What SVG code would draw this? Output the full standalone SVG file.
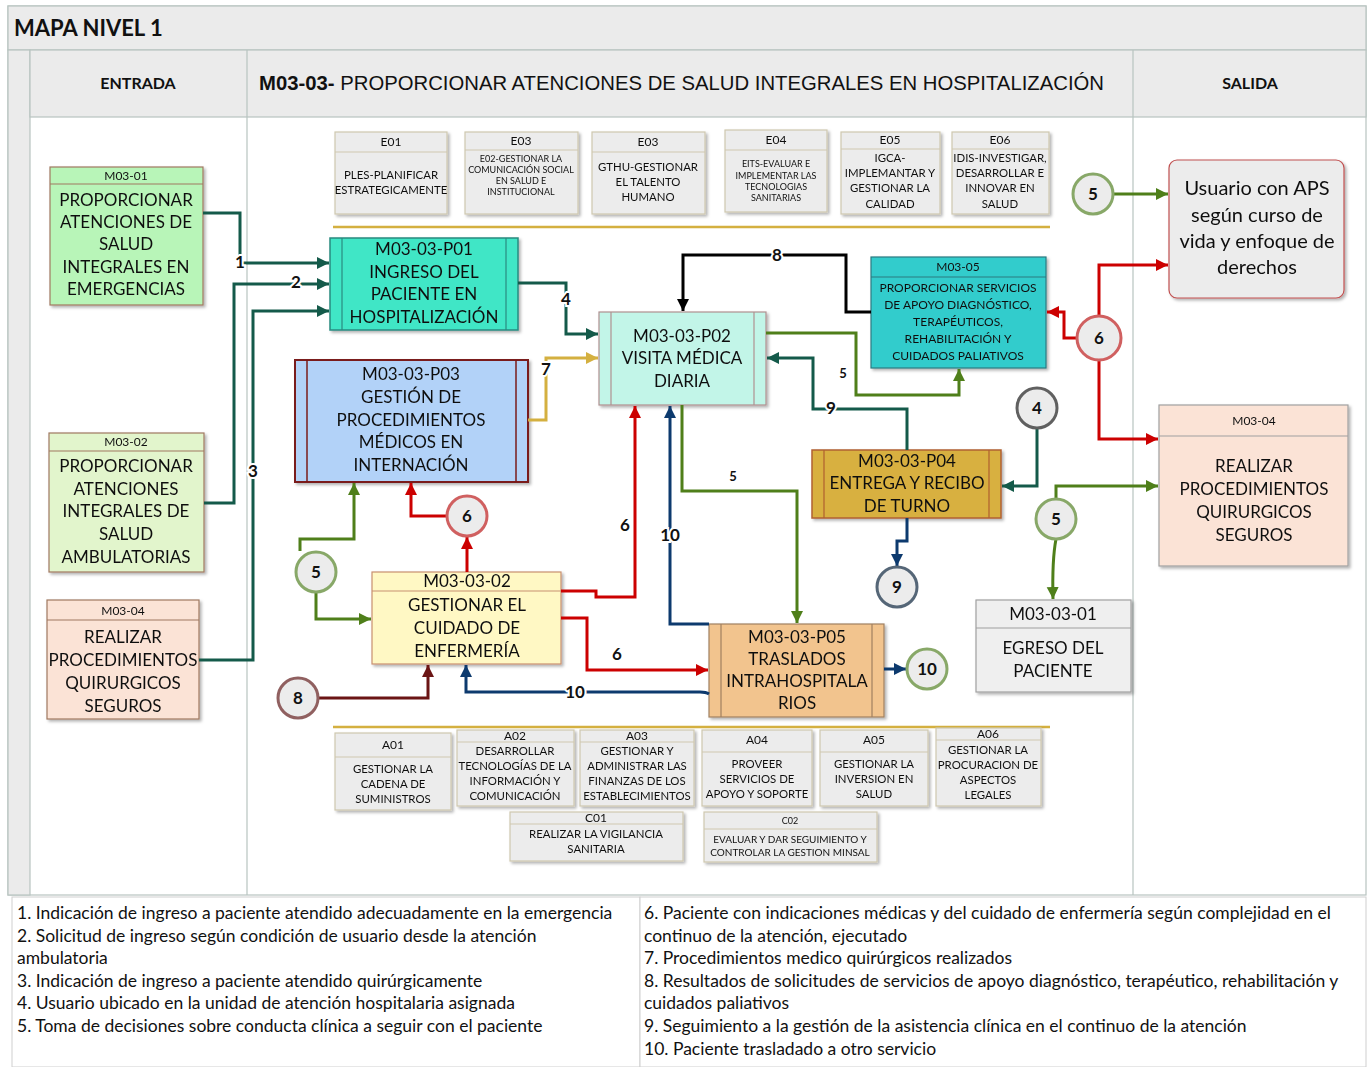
<svg xmlns="http://www.w3.org/2000/svg" width="1372" height="1067" viewBox="0 0 1372 1067">
<defs>
<style>
text{font-family:Lato,"Open Sans","Liberation Sans",sans-serif;fill:#111;text-anchor:middle}
.h{font-size:12px}
.b12{font-size:11.4px}
.b9{font-size:9px}
.n{font-size:17px}
.lab{font-size:17px;font-weight:bold;paint-order:stroke;stroke:#fff;stroke-width:4px}
.lg{font-size:17.5px;text-anchor:start}
.box{fill:#ececec;stroke:#cfc8b0;stroke-width:1.2}
.sep{stroke:#cfc8b0;stroke-width:1.2}
.c{fill:none;stroke-width:3;stroke-linejoin:miter}
.circ{fill:#ececec;stroke-width:3}
.cn{font-size:17px;font-weight:bold}
</style>
<filter id="sh" x="-10%" y="-10%" width="130%" height="130%"><feDropShadow dx="2" dy="2" stdDeviation="1.5" flood-color="#000" flood-opacity="0.3"/></filter>
<marker id="aDG" markerUnits="userSpaceOnUse" markerWidth="14" markerHeight="14" refX="12" refY="6" orient="auto"><path d="M0,0 L12,6 L0,12 z" fill="#145a4a"/></marker>
<marker id="aG" markerUnits="userSpaceOnUse" markerWidth="14" markerHeight="14" refX="12" refY="6" orient="auto"><path d="M0,0 L12,6 L0,12 z" fill="#4f7f1a"/></marker>
<marker id="aR" markerUnits="userSpaceOnUse" markerWidth="14" markerHeight="14" refX="12" refY="6" orient="auto"><path d="M0,0 L12,6 L0,12 z" fill="#cc0000"/></marker>
<marker id="aN" markerUnits="userSpaceOnUse" markerWidth="14" markerHeight="14" refX="12" refY="6" orient="auto"><path d="M0,0 L12,6 L0,12 z" fill="#0d3a6e"/></marker>
<marker id="aY" markerUnits="userSpaceOnUse" markerWidth="14" markerHeight="14" refX="12" refY="6" orient="auto"><path d="M0,0 L12,6 L0,12 z" fill="#d4b040"/></marker>
<marker id="aK" markerUnits="userSpaceOnUse" markerWidth="14" markerHeight="14" refX="12" refY="6" orient="auto"><path d="M0,0 L12,6 L0,12 z" fill="#000"/></marker>
<marker id="aDR" markerUnits="userSpaceOnUse" markerWidth="14" markerHeight="14" refX="12" refY="6" orient="auto"><path d="M0,0 L12,6 L0,12 z" fill="#6b1515"/></marker>
</defs>

<!-- frame -->
<g id="frame">
<rect x="0" y="0" width="1372" height="1067" fill="#fff"/>
<rect x="8" y="6" width="1358" height="889" fill="#fff" stroke="#b8c4c0" stroke-width="1.2"/>
<rect x="8" y="6" width="1358" height="44" fill="#ebebeb" stroke="#b8c4c0" stroke-width="1.2"/>
<rect x="8" y="50" width="22" height="845" fill="#ebebeb" stroke="#b8c4c0" stroke-width="1.2"/>
<rect x="30" y="50" width="1336" height="67" fill="#ebebeb" stroke="#b8c4c0" stroke-width="1.2"/>
<line x1="247" y1="50" x2="247" y2="895" stroke="#b8c4c0" stroke-width="1.2"/>
<line x1="1133" y1="50" x2="1133" y2="895" stroke="#b8c4c0" stroke-width="1.2"/>
<text x="14" y="36" style="font-size:22px;font-weight:bold;text-anchor:start">MAPA NIVEL 1</text>
<text x="138" y="89" style="font-size:16px;font-weight:bold">ENTRADA</text>
<text x="1250" y="89" style="font-size:16px;font-weight:bold">SALIDA</text>
<text x="259" y="90" textLength="845" lengthAdjust="spacingAndGlyphs" style="font-family:'Liberation Sans',sans-serif;font-size:20px;text-anchor:start"><tspan font-weight="bold">M03-03-</tspan> PROPORCIONAR ATENCIONES DE SALUD INTEGRALES EN HOSPITALIZACIÓN</text>
<line x1="333" y1="227" x2="1050" y2="227" stroke="#d4b040" stroke-width="2.5"/>
<line x1="333" y1="727" x2="1050" y2="727" stroke="#d4b040" stroke-width="2.5"/>
</g>

<!-- strategic -->
<g id="E01" filter="url(#sh)"><rect class="box" x="335" y="132" width="112" height="82"/><line class="sep" x1="335" y1="152" x2="447" y2="152"/><text class="h" x="391" y="146">E01</text><text class="b12" x="391" y="179">PLES-PLANIFICAR</text><text class="b12" x="391" y="194">ESTRATEGICAMENTE</text></g>
<g id="E02" filter="url(#sh)"><rect class="box" x="465" y="132" width="113" height="82"/><line class="sep" x1="465" y1="150" x2="578" y2="150"/><text class="h" x="521" y="145">E03</text><text class="b9" x="521" y="162">E02-GESTIONAR LA</text><text class="b9" x="521" y="173">COMUNICACIÓN SOCIAL</text><text class="b9" x="521" y="184">EN SALUD E</text><text class="b9" x="521" y="195">INSTITUCIONAL</text></g>
<g id="E03" filter="url(#sh)"><rect class="box" x="592" y="132" width="113" height="82"/><line class="sep" x1="592" y1="152" x2="705" y2="152"/><text class="h" x="648" y="146">E03</text><text class="b12" x="648" y="171">GTHU-GESTIONAR</text><text class="b12" x="648" y="186">EL TALENTO</text><text class="b12" x="648" y="201">HUMANO</text></g>
<g id="E04" filter="url(#sh)"><rect class="box" x="725" y="130" width="102" height="82"/><line class="sep" x1="725" y1="150" x2="827" y2="150"/><text class="h" x="776" y="144">E04</text><text class="b9" x="776" y="167">EITS-EVALUAR E</text><text class="b9" x="776" y="179">IMPLEMENTAR LAS</text><text class="b9" x="776" y="190">TECNOLOGIAS</text><text class="b9" x="776" y="201">SANITARIAS</text></g>
<g id="E05" filter="url(#sh)"><rect class="box" x="841" y="132" width="99" height="82"/><line class="sep" x1="841" y1="149" x2="940" y2="149"/><text class="h" x="890" y="144">E05</text><text class="b12" x="890" y="162">IGCA-</text><text class="b12" x="890" y="177">IMPLEMANTAR Y</text><text class="b12" x="890" y="192">GESTIONAR LA</text><text class="b12" x="890" y="208">CALIDAD</text></g>
<g id="E06" filter="url(#sh)"><rect class="box" x="952" y="132" width="97" height="82"/><line class="sep" x1="952" y1="149" x2="1049" y2="149"/><text class="h" x="1000" y="144">E06</text><text class="b12" x="1000" y="162">IDIS-INVESTIGAR,</text><text class="b12" x="1000" y="177">DESARROLLAR E</text><text class="b12" x="1000" y="192">INNOVAR EN</text><text class="b12" x="1000" y="208">SALUD</text></g>

<!-- support -->
<g id="A01" filter="url(#sh)"><rect class="box" x="335" y="733" width="116" height="77"/><line class="sep" x1="335" y1="757" x2="451" y2="757"/><text class="h" x="393" y="749">A01</text><text class="b12" x="393" y="773">GESTIONAR LA</text><text class="b12" x="393" y="788">CADENA DE</text><text class="b12" x="393" y="803">SUMINISTROS</text></g>
<g id="A02" filter="url(#sh)"><rect class="box" x="457" y="730" width="117" height="76"/><line class="sep" x1="457" y1="742" x2="574" y2="742"/><text class="h" x="515" y="740">A02</text><text class="b12" x="515" y="755">DESARROLLAR</text><text class="b12" x="515" y="770">TECNOLOGÍAS DE LA</text><text class="b12" x="515" y="785">INFORMACIÓN Y</text><text class="b12" x="515" y="800">COMUNICACIÓN</text></g>
<g id="A03" filter="url(#sh)"><rect class="box" x="580" y="730" width="114" height="76"/><line class="sep" x1="580" y1="742" x2="694" y2="742"/><text class="h" x="637" y="740">A03</text><text class="b12" x="637" y="755">GESTIONAR Y</text><text class="b12" x="637" y="770">ADMINISTRAR LAS</text><text class="b12" x="637" y="785">FINANZAS DE LOS</text><text class="b12" x="637" y="800">ESTABLECIMIENTOS</text></g>
<g id="A04" filter="url(#sh)"><rect class="box" x="702" y="730" width="110" height="76"/><line class="sep" x1="702" y1="752" x2="812" y2="752"/><text class="h" x="757" y="744">A04</text><text class="b12" x="757" y="768">PROVEER</text><text class="b12" x="757" y="783">SERVICIOS DE</text><text class="b12" x="757" y="798">APOYO Y SOPORTE</text></g>
<g id="A05" filter="url(#sh)"><rect class="box" x="820" y="730" width="108" height="76"/><line class="sep" x1="820" y1="752" x2="928" y2="752"/><text class="h" x="874" y="744">A05</text><text class="b12" x="874" y="768">GESTIONAR LA</text><text class="b12" x="874" y="783">INVERSION EN</text><text class="b12" x="874" y="798">SALUD</text></g>
<g id="A06" filter="url(#sh)"><rect class="box" x="936" y="728" width="105" height="78"/><line class="sep" x1="936" y1="740" x2="1041" y2="740"/><text class="h" x="988" y="738">A06</text><text class="b12" x="988" y="754">GESTIONAR LA</text><text class="b12" x="988" y="769">PROCURACION DE</text><text class="b12" x="988" y="784">ASPECTOS</text><text class="b12" x="988" y="799">LEGALES</text></g>
<g id="C01" filter="url(#sh)"><rect class="box" x="510" y="812" width="173" height="49"/><line class="sep" x1="510" y1="824" x2="683" y2="824"/><text class="h" x="596" y="822">C01</text><text class="b12" x="596" y="838">REALIZAR LA VIGILANCIA</text><text class="b12" x="596" y="853">SANITARIA</text></g>
<g id="C02" filter="url(#sh)"><rect class="box" x="704" y="812" width="173" height="50"/><line class="sep" x1="704" y1="829" x2="877" y2="829"/><text class="b9" x="790" y="824">C02</text><text style="font-size:10px" x="790" y="843">EVALUAR Y DAR SEGUIMIENTO Y</text><text style="font-size:10px" x="790" y="856">CONTROLAR LA GESTION MINSAL</text></g>

<!-- input nodes -->
<g id="M03-01" filter="url(#sh)"><rect x="50" y="167" width="153" height="138" fill="#b8f5b8" stroke="#a07860" stroke-width="1.2"/><line x1="50" y1="184" x2="203" y2="184" stroke="#a07860" stroke-width="1.2"/><text class="h" x="126" y="180">M03-01</text><text class="n" x="126" y="206">PROPORCIONAR</text><text class="n" x="126" y="228">ATENCIONES DE</text><text class="n" x="126" y="250">SALUD</text><text class="n" x="126" y="273">INTEGRALES EN</text><text class="n" x="126" y="295">EMERGENCIAS</text></g>
<g id="M03-02" filter="url(#sh)"><rect x="49" y="433" width="155" height="139" fill="#e2f5cc" stroke="#a07860" stroke-width="1.2"/><line x1="49" y1="451" x2="204" y2="451" stroke="#a07860" stroke-width="1.2"/><text class="h" x="126" y="446">M03-02</text><text class="n" x="126" y="472">PROPORCIONAR</text><text class="n" x="126" y="495">ATENCIONES</text><text class="n" x="126" y="517">INTEGRALES DE</text><text class="n" x="126" y="540">SALUD</text><text class="n" x="126" y="563">AMBULATORIAS</text></g>
<g id="M03-04-in" filter="url(#sh)"><rect x="47" y="600" width="152" height="119" fill="#fbe3d6" stroke="#a07860" stroke-width="1.2"/><line x1="47" y1="620" x2="199" y2="620" stroke="#a07860" stroke-width="1.2"/><text class="h" x="123" y="615">M03-04</text><text class="n" x="123" y="643">REALIZAR</text><text class="n" x="123" y="666">PROCEDIMIENTOS</text><text class="n" x="123" y="689">QUIRURGICOS</text><text class="n" x="123" y="712">SEGUROS</text></g>

<!-- process nodes -->
<g id="P01" filter="url(#sh)"><rect x="330" y="238" width="188" height="92" fill="#40e6c6" stroke="#2a8a80" stroke-width="1.5"/><line x1="342" y1="238" x2="342" y2="330" stroke="#2a8a80" stroke-width="1.2"/><line x1="506" y1="238" x2="506" y2="330" stroke="#2a8a80" stroke-width="1.2"/><text class="n" x="424" y="255">M03-03-P01</text><text class="n" x="424" y="278">INGRESO DEL</text><text class="n" x="424" y="300">PACIENTE EN</text><text class="n" x="424" y="323">HOSPITALIZACIÓN</text></g>
<g id="P02" filter="url(#sh)"><rect x="599" y="312" width="167" height="93" fill="#c2f5e8" stroke="#b09090" stroke-width="1.2"/><line x1="611" y1="312" x2="611" y2="405" stroke="#b09090" stroke-width="1.2"/><line x1="754" y1="312" x2="754" y2="405" stroke="#b09090" stroke-width="1.2"/><text class="n" x="682" y="342">M03-03-P02</text><text class="n" x="682" y="364">VISITA MÉDICA</text><text class="n" x="682" y="387">DIARIA</text></g>
<g id="P03" filter="url(#sh)"><rect x="295" y="360" width="233" height="122" fill="#b2d2f8" stroke="#7a1a1a" stroke-width="2"/><line x1="307" y1="360" x2="307" y2="482" stroke="#7a1a1a" stroke-width="1.5"/><line x1="516" y1="360" x2="516" y2="482" stroke="#7a1a1a" stroke-width="1.5"/><text class="n" x="411" y="380">M03-03-P03</text><text class="n" x="411" y="403">GESTIÓN DE</text><text class="n" x="411" y="426">PROCEDIMIENTOS</text><text class="n" x="411" y="448">MÉDICOS EN</text><text class="n" x="411" y="471">INTERNACIÓN</text></g>
<g id="M03-05" filter="url(#sh)"><rect x="871" y="257" width="175" height="111" fill="#33cccc" stroke="#2a7a80" stroke-width="1.2"/><line x1="871" y1="277" x2="1046" y2="277" stroke="#2a7a80" stroke-width="1.2"/><text class="h" x="958" y="271">M03-05</text><text style="font-size:12px" x="958" y="292">PROPORCIONAR  SERVICIOS</text><text style="font-size:12px" x="958" y="309">DE APOYO DIAGNÓSTICO,</text><text style="font-size:12px" x="958" y="326">TERAPÉUTICOS,</text><text style="font-size:12px" x="958" y="343">REHABILITACIÓN Y</text><text style="font-size:12px" x="958" y="360">CUIDADOS PALIATIVOS</text></g>
<g id="P04" filter="url(#sh)"><rect x="812" y="450" width="189" height="68" fill="#d8b040" stroke="#b06030" stroke-width="1.5"/><line x1="824" y1="450" x2="824" y2="518" stroke="#b06030" stroke-width="1.2"/><line x1="989" y1="450" x2="989" y2="518" stroke="#b06030" stroke-width="1.2"/><text class="n" x="907" y="467">M03-03-P04</text><text class="n" x="907" y="489">ENTREGA Y RECIBO</text><text class="n" x="907" y="512">DE TURNO</text></g>
<g id="M03-03-02" filter="url(#sh)"><rect x="372" y="572" width="189" height="92" fill="#fff8c4" stroke="#c89070" stroke-width="1.2"/><line x1="372" y1="591" x2="561" y2="591" stroke="#c89070" stroke-width="1.2"/><text class="n" x="467" y="587">M03-03-02</text><text class="n" x="467" y="611">GESTIONAR EL</text><text class="n" x="467" y="634">CUIDADO DE</text><text class="n" x="467" y="657">ENFERMERÍA</text></g>
<g id="P05" filter="url(#sh)"><rect x="709" y="624" width="175" height="93" fill="#f2c48e" stroke="#a08060" stroke-width="1.2"/><line x1="721" y1="624" x2="721" y2="717" stroke="#a08060" stroke-width="1.2"/><line x1="872" y1="624" x2="872" y2="717" stroke="#a08060" stroke-width="1.2"/><text class="n" x="797" y="643">M03-03-P05</text><text class="n" x="797" y="665">TRASLADOS</text><text class="n" x="797" y="687">INTRAHOSPITALA</text><text class="n" x="797" y="709">RIOS</text></g>

<!-- output nodes -->
<g id="M03-03-01" filter="url(#sh)"><rect x="976" y="600" width="155" height="92" fill="#efefef" stroke="#a0a0a0" stroke-width="1.2"/><line x1="976" y1="628" x2="1131" y2="628" stroke="#a0a0a0" stroke-width="1.2"/><text class="n" x="1053" y="620">M03-03-01</text><text class="n" x="1053" y="654">EGRESO DEL</text><text class="n" x="1053" y="677">PACIENTE</text></g>
<g id="usuario" filter="url(#sh)"><rect x="1169" y="160" width="175" height="138" rx="8" fill="#ececec" stroke="#c05050" stroke-width="1.2"/><text style="font-size:20px" x="1257" y="195">Usuario con APS</text><text style="font-size:20px" x="1257" y="222">según curso de</text><text style="font-size:20px" x="1257" y="248">vida y enfoque de</text><text style="font-size:20px" x="1257" y="274">derechos</text></g>
<g id="M03-04-out" filter="url(#sh)"><rect x="1159" y="405" width="189" height="161" fill="#fbe3d6" stroke="#a0a0a0" stroke-width="1.2"/><line x1="1159" y1="436" x2="1348" y2="436" stroke="#a0a0a0" stroke-width="1.2"/><text class="h" x="1254" y="425">M03-04</text><text class="n" x="1254" y="472">REALIZAR</text><text class="n" x="1254" y="495">PROCEDIMIENTOS</text><text class="n" x="1254" y="518">QUIRURGICOS</text><text class="n" x="1254" y="541">SEGUROS</text></g>

<!-- connectors -->
<g id="connectors">
<path class="c" stroke="#145a4a" marker-end="url(#aDG)" d="M203,213 H240 V263 H329"/>
<path class="c" stroke="#145a4a" marker-end="url(#aDG)" d="M204,503 H234 V284 H329"/>
<path class="c" stroke="#145a4a" marker-end="url(#aDG)" d="M199,660 H253 V311 H329"/>
<path class="c" stroke="#145a4a" marker-end="url(#aDG)" d="M518,283 H566 V334 H598"/>
<path class="c" stroke="#d4b040" marker-end="url(#aY)" d="M528,420 H546 V358 H598"/>
<path class="c" stroke="#000" marker-end="url(#aK)" d="M871,312 H846 V255 H683 V311"/>
<path class="c" stroke="#4f7f1a" marker-end="url(#aG)" d="M766,333 H856 V395 H959 V369"/>
<path class="c" stroke="#145a4a" marker-end="url(#aDG)" d="M907,450 V409 H813 V358 H767"/>
<path class="c" stroke="#4f7f1a" marker-end="url(#aG)" d="M682,405 V491 H797 V623"/>
<path class="c" stroke="#cc0000" marker-end="url(#aR)" d="M561,591 H596 V597 H635 V406"/>
<path class="c" stroke="#0d3a6e" marker-end="url(#aN)" d="M709,624 H670 V406"/>
<path class="c" stroke="#cc0000" marker-end="url(#aR)" d="M561,618 H587 V670 H708"/>
<path class="c" stroke="#0d3a6e" marker-end="url(#aN)" d="M709,694 Q706,692 700,692 H466 V665"/>
<path class="c" stroke="#6b1515" marker-end="url(#aDR)" d="M318,698 H428 V665"/>
<path class="c" stroke="#4f7f1a" marker-end="url(#aG)" d="M300,551 V539 H354 V483"/>
<path class="c" stroke="#4f7f1a" marker-end="url(#aG)" d="M316,592 V619 H371"/>
<path class="c" stroke="#cc0000" marker-end="url(#aR)" d="M467,572 V537"/>
<path class="c" stroke="#cc0000" marker-end="url(#aR)" d="M447,516 H411 V483"/>
<path class="c" stroke="#0d3a6e" stroke-width="2.5" marker-end="url(#aN)" d="M907,518 V541 H897 V566"/>
<path class="c" stroke="#0d3a6e" marker-end="url(#aN)" d="M884,669 H906"/>
<path class="c" stroke="#145a4a" marker-end="url(#aDG)" d="M1037,428 V486 H1002"/>
<path class="c" stroke="#4f7f1a" marker-end="url(#aG)" d="M1113,194 H1168"/>
<path class="c" stroke="#cc0000" marker-end="url(#aR)" d="M1099,316 V265 H1168"/>
<path class="c" stroke="#cc0000" marker-end="url(#aR)" d="M1077,338 H1064 V312 H1047"/>
<path class="c" stroke="#cc0000" marker-end="url(#aR)" d="M1099,360 V439 H1158"/>
<path class="c" stroke="#4f7f1a" marker-end="url(#aG)" d="M1056,499 V486 H1158"/>
<path class="c" stroke="#4f7f1a" marker-end="url(#aG)" d="M1056,539 Q1052,560 1053,599"/>
<text class="lab" x="240" y="268">1</text>
<text class="lab" x="296" y="288">2</text>
<text class="lab" x="253" y="477">3</text>
<text class="lab" x="566" y="305">4</text>
<text class="lab" x="546" y="375">7</text>
<text class="lab" x="777" y="261">8</text>
<text class="lab" x="843" y="378" style="font-size:13px">5</text>
<text class="lab" x="831" y="414">9</text>
<text class="lab" x="733" y="481" style="font-size:13px">5</text>
<text class="lab" x="625" y="531">6</text>
<text class="lab" x="670" y="541">10</text>
<text class="lab" x="617" y="660">6</text>
<text class="lab" x="575" y="698">10</text>
</g>

<!-- circles -->
<g id="c5a"><circle class="circ" cx="1093" cy="194" r="20" stroke="#88a868"/><text class="cn" x="1093" y="200">5</text></g>
<g id="c6a"><circle class="circ" cx="1099" cy="338" r="22" stroke="#d06060"/><text class="cn" x="1099" y="344">6</text></g>
<g id="c4"><circle class="circ" cx="1037" cy="408" r="20" stroke="#606060"/><text class="cn" x="1037" y="414">4</text></g>
<g id="c5b"><circle class="circ" cx="1056" cy="519" r="20" stroke="#88a868"/><text class="cn" x="1056" y="525">5</text></g>
<g id="c9"><circle class="circ" cx="897" cy="587" r="20" stroke="#556677"/><text class="cn" x="897" y="593">9</text></g>
<g id="c10"><circle class="circ" cx="927" cy="669" r="20" stroke="#88a868"/><text class="cn" x="927" y="675">10</text></g>
<g id="c6b"><circle class="circ" cx="467" cy="516" r="20" stroke="#d06060"/><text class="cn" x="467" y="522">6</text></g>
<g id="c5c"><circle class="circ" cx="316" cy="572" r="20" stroke="#88a868"/><text class="cn" x="316" y="578">5</text></g>
<g id="c8"><circle class="circ" cx="298" cy="698" r="20" stroke="#906060"/><text class="cn" x="298" y="704">8</text></g>

<!-- legend -->
<g id="legend">
<rect x="12" y="897" width="628" height="170" fill="#fff" stroke="#cfcfcf" stroke-width="1"/>
<rect x="640" y="897" width="726" height="170" fill="#fff" stroke="#cfcfcf" stroke-width="1"/>
<text class="lg" x="17" y="919">1. Indicación de ingreso a paciente atendido adecuadamente en la emergencia</text>
<text class="lg" x="17" y="942">2. Solicitud de  ingreso según condición de usuario desde la atención</text>
<text class="lg" x="17" y="964">ambulatoria</text>
<text class="lg" x="17" y="987">3. Indicación de ingreso a paciente atendido quirúrgicamente</text>
<text class="lg" x="17" y="1009">4. Usuario ubicado en la unidad de atención hospitalaria asignada</text>
<text class="lg" x="17" y="1032">5. Toma de decisiones sobre conducta clínica a seguir con el paciente</text>
<text class="lg" x="644" y="919">6. Paciente con indicaciones médicas y del cuidado de enfermería según complejidad en el</text>
<text class="lg" x="644" y="942">continuo de la atención, ejecutado</text>
<text class="lg" x="644" y="964">7. Procedimientos medico quirúrgicos realizados</text>
<text class="lg" x="644" y="987">8. Resultados de solicitudes de servicios de apoyo diagnóstico, terapéutico, rehabilitación y</text>
<text class="lg" x="644" y="1009">cuidados paliativos</text>
<text class="lg" x="644" y="1032">9. Seguimiento a la gestión de la asistencia clínica en el continuo de la atención</text>
<text class="lg" x="644" y="1055">10. Paciente trasladado a otro servicio</text>
</g>
</svg>
